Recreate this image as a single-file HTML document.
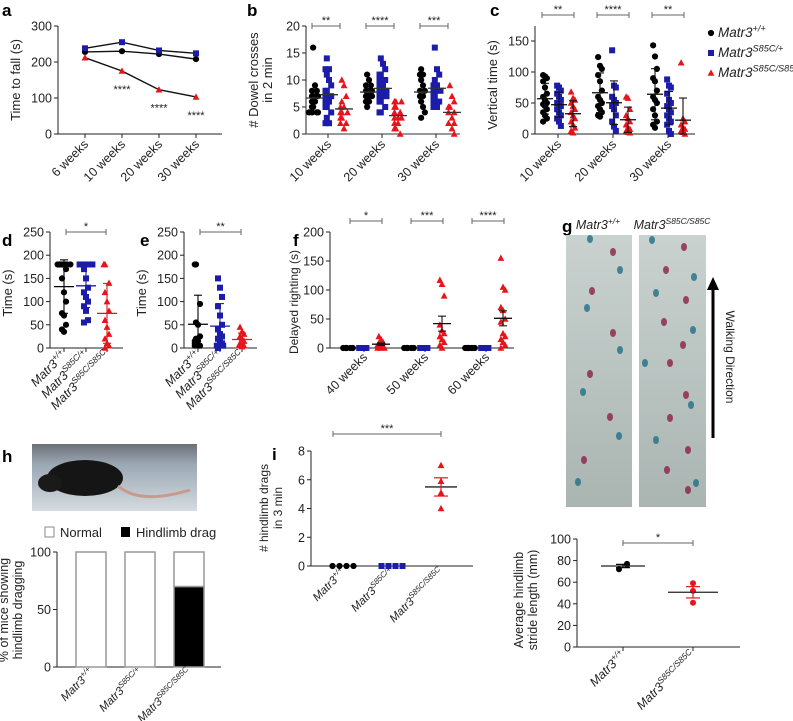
<!DOCTYPE html>
<html><head><meta charset="utf-8">
<style>
html,body{margin:0;padding:0;background:#fff;}
svg{display:block;font-family:"Liberation Sans",Arial,sans-serif;}
</style></head>
<body>
<svg id="fig" width="793" height="721" viewBox="0 0 793 721" xmlns="http://www.w3.org/2000/svg">
<rect x="0" y="0" width="793" height="721" fill="#fff"/>
</svg>
<script>
// ---------- DATA ----------
const aCategories = ['6 weeks','10 weeks','20 weeks','30 weeks'];
const aWT = [228,230,222,208];
const aHet = [238,255,232,224];
const aHom = [212,175,123,103];
const aStars = ['', '****','****','****'];

const weekCats = ['10 weeks','20 weeks','30 weeks'];
const bWT = [[16,9,8,8,7,7,7,6,6,5,5,4,4,4,4],[11,10,9,9,8,8,8,7,7,7,6,6,5],[12,11,11,10,9,8,8,7,7,6,5,4,3]];
const bHet = [[14,12,12,11,10,9,8,8,7,7,6,6,5,5,4,3,2,2],[14,13,12,11,11,10,10,9,9,8,8,8,7,7,7,6,6,5,4,4],[16,12,11,10,9,9,8,8,8,7,7,6,6,5,5]];
const bHom = [[10,9,7,6,5,5,4,4,4,3,3,2,2,1],[6,6,6,5,5,4,4,3,3,3,2,2,1,1,0],[9,7,6,5,5,4,4,3,2,2,1,0]];
const bSig = ['**','****','***'];

const cWT = [[95,93,90,85,75,65,60,55,50,48,45,40,35,30,25,20],[124,110,105,95,85,70,60,55,50,45,40,35,30,28],[143,125,105,90,85,70,60,55,50,40,30,20,15,10]];
const cHet = [[78,75,70,65,60,55,50,48,45,40,35,30,25,20,13],[135,78,75,60,55,50,45,40,30,20,12,5],[88,78,75,65,55,50,45,40,35,30,25,20,15,5,0]];
const cHom = [[68,58,55,50,45,40,35,30,25,20,15,10,5,2],[60,58,40,30,25,20,15,10,8,5,3,2],[115,25,20,15,10,8,5,3,0]];
const cSig = ['**','****','**'];

const genotypes = ['+/+','S85C/+','S85C/S85C'];
const dData = [[180,180,180,180,180,180,180,180,170,150,120,100,75,70,50,40,35],[180,180,180,180,180,180,170,150,130,120,110,100,90,80,60,55],[180,180,140,120,100,80,60,45,30,20,10,5,0]];
const eData = [[180,180,95,55,50,25,20,15,15,10,10,5,5],[150,130,110,90,70,50,40,30,25,20,15,10,5,5,5,0],[45,35,30,25,20,15,10,8,5,5,3]];
const fCats = ['40 weeks','50 weeks','60 weeks'];
const fWT = [[0,0,0,0,0,0],[0,0,0,0,0,0],[0,0,0,0,0,0,0,0]];
const fHet = [[0,0,0,0],[0,0,0,0],[0,0,0,0]];
const fHom = [[20,15,10,8,5,5,3,0,0,0],[117,110,90,40,30,25,20,15,10,5,0],[155,105,100,70,65,50,45,25,20,15,10,5,0]];
const fSig = ['*','***','****'];

const gGenos = ['+/+','S85C/S85C'];
const gStride = [[72,77,76],[59,52,41]];

const hGenos = ['+/+','S85C/+','S85C/S85C'];
const hNormal = [100,100,30];
const hDrag = [0,0,70];

const iGenos = ['+/+','S85C/+','S85C/S85C'];
const iDrags = [[0,0,0,0],[0,0,0,0],[7,5.9,5.1,4]];

// ---------- HELPERS ----------
const NS='http://www.w3.org/2000/svg';
const svg=document.getElementById('fig');
const COL=['#000000','#1c1caa','#e8141c'];
const JIT=[0,-4,4,-8,8,-2,2,-6,6,-10,10];
function mk(tag,attrs,name,parent){
  const e=document.createElementNS(NS,tag);
  for(const k in attrs) e.setAttribute(k,attrs[k]);
  
  
  (parent||svg).appendChild(e);
  return e;
}
function txt(x,y,s,size,name,extra){
  const a=Object.assign({x:x,y:y,'font-size':size,fill:'#222'},extra||{});
  const t=mk('text',a,name);
  t.textContent=s;
  return t;
}
function line(x1,y1,x2,y2,name,col,w){
  return mk('line',{x1:x1,y1:y1,x2:x2,y2:y2,stroke:col||'#222','stroke-width':w||1},name);
}
function matr(x,y,sup,size,name,rot,anchor){
  const a={x:x,y:y,'font-size':size,fill:'#222','font-style':'italic','text-anchor':anchor||'start'};
  if(rot) a.transform='rotate('+rot+' '+x+' '+y+')';
  const t=mk('text',a,name);
  const s1=document.createElementNS(NS,'tspan');s1.textContent='Matr3';t.appendChild(s1);
  const s2=document.createElementNS(NS,'tspan');s2.textContent=sup;
  s2.setAttribute('font-size',size*0.68);s2.setAttribute('dy',-size*0.4);t.appendChild(s2);
  return t;
}
function rotLabel(x,y,s,size,name){
  return txt(x,y,s,size,name,{'text-anchor':'end',transform:'rotate(-45 '+x+' '+y+')'});
}
function yAxis(x,ys,ticks,top,name){
  line(x,ys(ticks[0]),x,top,name+'-line');
  ticks.forEach(v=>{
    line(x-4,ys(v),x,ys(v),name+'-tick');
    txt(x-6,ys(v)+4.5,String(v),12.5,name+'-tick-label',{'text-anchor':'end'});
  });
}
function yTitle(x,y,lines,size,name){
  lines.forEach((s,i)=>{
    txt(x+i*14,y,s,size,name,{'text-anchor':'middle',transform:'rotate(-90 '+(x+i*14)+' '+y+')'});
  });
}
function marker(type,cx,cy,name){
  if(type===0) return mk('circle',{cx:cx,cy:cy,r:3.1,fill:COL[0]},name);
  if(type===1) return mk('rect',{x:cx-3,y:cy-3,width:6,height:6,fill:COL[1]},name);
  return mk('polygon',{points:(cx)+','+(cy-3.6)+' '+(cx+3.4)+','+(cy+2.8)+' '+(cx-3.4)+','+(cy+2.8),fill:COL[2]},name);
}
function stats(arr){
  const m=arr.reduce((a,b)=>a+b,0)/arr.length;
  const sd=Math.sqrt(arr.reduce((a,b)=>a+(b-m)*(b-m),0)/Math.max(1,arr.length-1));
  return {m:m,sd:sd,sem:sd/Math.sqrt(arr.length)};
}
function scatter(type,cx,vals,ys,name,spread){
  const seen={};
  const k=(spread||4)/4;
  vals.forEach((v,idx)=>{
    seen[v]=(seen[v]||0)+1; const n=seen[v]-1;
    let off=JIT[n%JIT.length]*k;
    if(n===0) off=((idx%3)-1)*2.5*k;
    marker(type,cx+off,ys(v),name);
  });
}
function meanBar(cx,vals,ys,col,name,kind,half){
  const s=stats(vals);
  const w=half||9;
  line(cx-w,ys(s.m),cx+w,ys(s.m),name+'-mean',col,1.3);
  if(kind){
    const e=kind==='sd'?s.sd:s.sem;
    const lo=Math.max(0,s.m-e), hi=s.m+e;
    line(cx,ys(lo),cx,ys(hi),name+'-error',col,1.1);
    line(cx-4,ys(hi),cx+4,ys(hi),name+'-error-cap',col,1.1);
    line(cx-4,ys(lo),cx+4,ys(lo),name+'-error-cap',col,1.1);
  }
}
function sig(x1,x2,y,s,name){
  line(x1,y,x2,y,name+'-bar','#666',1);
  line(x1,y-3,x1,y+3,name+'-bar-end','#666',1);
  line(x2,y-3,x2,y+3,name+'-bar-end','#666',1);
  txt((x1+x2)/2,y-2,s,11,name+'-stars',{'text-anchor':'middle'});
}
function panelLabel(x,y,s){
  txt(x,y,s,17,'panel-label-'+s,{'font-weight':'bold',fill:'#000'});
}

// ---------- PANEL A ----------
panelLabel(2,16,'a');
const yA=v=>134-v*(108/300);
const xA=i=>85+i*37;
yAxis(58,yA,[0,100,200,300],26,'a-y-axis');
line(58,134,222,134,'a-x-axis');
aCategories.forEach((c,i)=>{line(xA(i),134,xA(i),138,'a-x-tick');rotLabel(xA(i)+4,145,c,12.5,'a-x-label');});
yTitle(20,80,['Time to fall (s)'],13,'a-y-title');
[[aWT,0],[aHet,1],[aHom,2]].forEach(([arr,t])=>{
  const pts=arr.map((v,i)=>xA(i)+','+yA(v)).join(' ');
  mk('polyline',{points:pts,fill:'none',stroke:'#111','stroke-width':1.4},'a-series-line-'+t);
  arr.forEach((v,i)=>{
    line(xA(i),yA(v-7),xA(i),yA(v+7),'a-error-bar',COL[t],1.1);
    marker(t,xA(i),yA(v),'a-point-'+t);
  });
});
aStars.forEach((s,i)=>{ if(s) txt(xA(i),yA(aHom[i])+22,s,11,'a-significance',{'text-anchor':'middle'}); });

// ---------- PANEL B ----------
panelLabel(247,16,'b');
const yB=v=>134-v*(108/20);
const xB=i=>328+i*54;
yAxis(306,yB,[0,5,10,15,20],26,'b-y-axis');
line(306,134,460,134,'b-x-axis','#777',1.5);
weekCats.forEach((c,i)=>{line(xB(i),134,xB(i),138,'b-x-tick');rotLabel(xB(i)+4,145,c,12.5,'b-x-label');});
yTitle(258,80,['# Dowel crosses','in 2 min'],13,'b-y-title');
weekCats.forEach((c,i)=>{
  scatter(0,xB(i)-13,bWT[i],yB,'b-point-wt',3);
  scatter(1,xB(i)+1,bHet[i],yB,'b-point-het',3.5);
  scatter(2,xB(i)+16,bHom[i],yB,'b-point-hom',3.5);
  meanBar(xB(i)-13,bWT[i],yB,'#333','b-wt');
  meanBar(xB(i)+1,bHet[i],yB,'#333','b-het');
  meanBar(xB(i)+16,bHom[i],yB,'#333','b-hom');
  sig(xB(i)-16,xB(i)+12,26,bSig[i],'b-sig');
});

// ---------- PANEL C ----------
panelLabel(490,16,'c');
const yC=v=>134-v*(31/50);
const xC=i=>558+i*55;
yAxis(535,yC,[0,50,100,150],26,'c-y-axis');
line(535,134,695,134,'c-x-axis');
weekCats.forEach((c,i)=>{line(xC(i),134,xC(i),138,'c-x-tick');rotLabel(xC(i)+4,145,c,12.5,'c-x-label');});
yTitle(497,85,['Vertical time (s)'],13,'c-y-title');
weekCats.forEach((c,i)=>{
  scatter(0,xC(i)-13,cWT[i],yC,'c-point-wt',3);
  scatter(1,xC(i)+1,cHet[i],yC,'c-point-het',3);
  scatter(2,xC(i)+15,cHom[i],yC,'c-point-hom',3);
  meanBar(xC(i)-13,cWT[i],yC,'#111','c-wt','sd',8);
  meanBar(xC(i)+1,cHet[i],yC,'#111','c-het','sd',8);
  meanBar(xC(i)+15,cHom[i],yC,'#111','c-hom','sd',8);
  sig(xC(i)-16,xC(i)+16,15,cSig[i],'c-sig');
});
// legend
[37,57,77].forEach((y,i)=>{
  marker(i,711,y-4,'legend-marker');
  matr(718,y,genotypes[i],13.5,'legend-entry');
});

// ---------- PANEL D / E ----------
function genoPanel(label,lx,ax,cats,data,sigTxt){
  panelLabel(lx,246,label);
  const yD=v=>348-v*(23.2/50);
  yAxis(ax,yD,[0,50,100,150,200,250],232,label+'-y-axis');
  line(ax,348,ax+73,348,label+'-x-axis');
  yTitle(ax-38,293,['Time (s)'],13,label+'-y-title');
  data.forEach((arr,i)=>{
    const cx=cats[i];
    line(cx,348,cx,352,label+'-x-tick');
    matr(cx+3,356,genotypes[i],12.5,label+'-x-label',-45,'end');
    scatter(i,cx,arr,yD,label+'-point-'+i,3.2);
    meanBar(cx,arr,yD,COL[i],label+'-group-'+i,'sd',10);
  });
  sig(cats[0]+2,cats[2]-1,232,sigTxt,label+'-sig');
}
genoPanel('d',2,50,[64,86,107],dData,'*');
genoPanel('e',140,184,[198,220,242],eData,'**');

// ---------- PANEL F ----------
panelLabel(293,246,'f');
const yF=v=>348-v*(29/50);
const xF=i=>364+i*61;
yAxis(330,yF,[0,50,100,150,200],232,'f-y-axis');
line(330,348,514,348,'f-x-axis');
yTitle(298,302,['Delayed righting (s)'],12,'f-y-title');
fCats.forEach((c,i)=>{
  line(xF(i),348,xF(i),352,'f-x-tick');
  rotLabel(xF(i)+4,358,c,12.5,'f-x-label');
  scatter(0,xF(i)-16,fWT[i],yF,'f-point-wt',2.4);
  scatter(1,xF(i),fHet[i],yF,'f-point-het',2.4);
  scatter(2,xF(i)+17,fHom[i],yF,'f-point-hom',3.4);
  meanBar(xF(i)+17,fHom[i],yF,'#111','f-hom','sem',9);
  sig(xF(i)-14,xF(i)+18,221,fSig[i],'f-sig');
});

// ---------- PANEL G ----------
panelLabel(562,232,'g');
matr(598,229,'+/+',12.5,'g-header-wt',0,'middle');
matr(672,229,'S85C/S85C',12.5,'g-header-hom',0,'middle');
const defs=mk('defs',{},'defs');
const lg=mk('linearGradient',{id:'paper',x1:0,y1:0,x2:0,y2:1},'paper-gradient',defs);
mk('stop',{offset:'0','stop-color':'#c9d2cf'},'stop',lg);
mk('stop',{offset:'1','stop-color':'#aab5b2'},'stop',lg);
mk('rect',{x:566,y:235,width:66,height:272,fill:'url(#paper)'},'footprint-image-wt');
mk('rect',{x:639,y:235,width:67,height:272,fill:'url(#paper)'},'footprint-image-hom');
const prints=[[590,239,1],[613,252,0],[620,270,1],[592,291,0],[587,308,1],[613,333,0],[620,350,1],[590,374,0],[583,392,1],[610,417,0],[619,436,1],[584,460,0],[578,482,1],
[652,240,1],[684,247,0],[666,270,0],[694,277,1],[656,293,1],[686,300,0],[664,322,0],[693,330,1],[683,345,0],[645,363,1],[670,363,0],[686,395,0],[691,405,1],[670,418,0],[656,440,1],[688,450,0],[667,470,0],[696,483,1],[688,490,0]];
prints.forEach(p=>mk('ellipse',{cx:p[0],cy:p[1],rx:3,ry:4,fill:p[2]?'#1f6f84':'#8a2045',opacity:0.8},'footprint'));
mk('line',{x1:713,y1:438,x2:713,y2:286,stroke:'#000','stroke-width':3},'walking-direction-arrow');
mk('polygon',{points:'713,277 707,290 719,290',fill:'#000'},'walking-direction-arrowhead');
txt(726,357,'Walking Direction',12,'walking-direction-label',{'text-anchor':'middle',transform:'rotate(90 726 357)'});
// stride chart
const yG=v=>647-v*(108/100);
const xG=i=>623+i*70;
yAxis(577,yG,[0,20,40,60,80,100],539,'g-y-axis');
line(577,647,740,647,'g-x-axis');
yTitle(523,600,['Average hindlimb','stride length (mm)'],12.5,'g-y-title');
gStride.forEach((arr,i)=>{
  const t=i===0?0:2;
  line(xG(i),647,xG(i),651,'g-x-tick');
  matr(xG(i)+3,656,gGenos[i],12.5,'g-x-label',-45,'end');
  arr.forEach(v=>mk('circle',{cx:xG(i)+(v>stats(arr).m?4:-4)*(i===0?1:0),cy:yG(v),r:3,fill:COL[t]},'g-point'));
  meanBar(xG(i),arr,yG,'#222','g-group-'+i,null,i===0?22:25);
  const s=stats(arr);
  line(xG(i)-7,yG(s.m+s.sem),xG(i)+7,yG(s.m+s.sem),'g-error-cap',COL[t],1.2);
  line(xG(i)-7,yG(s.m-s.sem),xG(i)+7,yG(s.m-s.sem),'g-error-cap',COL[t],1.2);
  line(xG(i),yG(s.m-s.sem),xG(i),yG(s.m+s.sem),'g-error',COL[t],1.2);
});
sig(xG(0),xG(1),543,'*','g-sig');

// ---------- PANEL H ----------
panelLabel(2,462,'h');
const pg=mk('linearGradient',{id:'photo',x1:0,y1:0,x2:0,y2:1},'photo-gradient',defs);
mk('stop',{offset:'0','stop-color':'#6d6f78'},'stop',pg);
mk('stop',{offset:'0.3','stop-color':'#9aa8b4'},'stop',pg);
mk('stop',{offset:'1','stop-color':'#d5dbe0'},'stop',pg);
mk('rect',{x:32,y:444,width:165,height:67,fill:'url(#photo)'},'mouse-photo');
mk('ellipse',{cx:85,cy:478,rx:38,ry:18,fill:'#151515'},'mouse-body');
mk('ellipse',{cx:50,cy:483,rx:12,ry:9,fill:'#1a1a1a'},'mouse-head');
mk('path',{d:'M118,486 Q140,505 190,490',fill:'none',stroke:'#c99a8c','stroke-width':3},'mouse-tail');
mk('rect',{x:45,y:527,width:9,height:10,fill:'#fff',stroke:'#888'},'legend-normal-swatch');
txt(60,537,'Normal',13,'legend-normal');
mk('rect',{x:121,y:527,width:9,height:10,fill:'#000'},'legend-drag-swatch');
txt(136,537,'Hindlimb drag',13,'legend-hindlimb-drag');
const yH=v=>667-v*(115/100);
const xH=i=>91+i*49;
yAxis(57,yH,[0,50,100],552,'h-y-axis');
line(57,667,221,667,'h-x-axis');
yTitle(8,610,['% of mice showing','hindlimb dragging'],12.5,'h-y-title');
hGenos.forEach((g,i)=>{
  const x=xH(i)-15;
  mk('rect',{x:x,y:yH(hDrag[i]),width:30,height:yH(0)-yH(hDrag[i]),fill:'#000',stroke:'#999','stroke-width':1.5},'h-bar-drag');
  mk('rect',{x:x,y:yH(hDrag[i]+hNormal[i]),width:30,height:yH(hDrag[i])-yH(hDrag[i]+hNormal[i]),fill:'#fff',stroke:'#999','stroke-width':1.5},'h-bar-normal');
  matr(xH(i)+3,673,g,11.5,'h-x-label',-45,'end');
});

// ---------- PANEL I ----------
panelLabel(272,460,'i');
const yI=v=>566-v*(115/8);
const xI=i=>343+i*49;
yAxis(311,yI,[0,2,4,6,8],451,'i-y-axis');
line(311,566,473,566,'i-x-axis');
yTitle(268,508,['# hindlimb drags','in 3 min'],12,'i-y-title');
iDrags.forEach((arr,i)=>{
  const cx=xI(i);
  matr(cx+3,573,iGenos[i],11.5,'i-x-label',-45,'end');
  if(i<2){
    arr.forEach((v,j)=>marker(i,cx-10.5+j*7,yI(v),'i-point'));
  } else {
    arr.forEach(v=>marker(2,cx,yI(v),'i-point'));
    meanBar(cx,arr,yI,'#222','i-group',null,16);
    const s=stats(arr);
    line(cx-7,yI(s.m+s.sem),cx+7,yI(s.m+s.sem),'i-error-cap',COL[2],1.2);
    line(cx-7,yI(s.m-s.sem),cx+7,yI(s.m-s.sem),'i-error-cap',COL[2],1.2);
    line(cx,yI(s.m-s.sem),cx,yI(s.m+s.sem),'i-error',COL[2],1.2);
  }
});
sig(xI(0)-10,xI(2),434,'***','i-sig');
</script>
</body></html>
